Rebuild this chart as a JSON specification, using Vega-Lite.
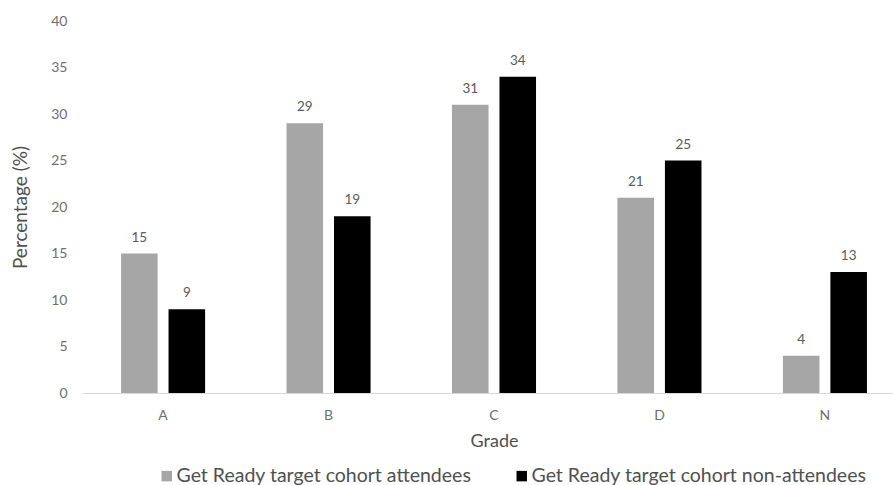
{
  "$schema": "https://vega.github.io/schema/vega-lite/v6.json",
  "autosize": "none",
  "padding": {"left": 82, "top": 21, "right": 0, "bottom": 92},
  "width": 824,
  "height": 372,
  "background": "white",
  "config": {
    "font": "Lato",
    "view": {"stroke": null},
    "axis": {"grid": false, "ticks": false, "labelColor": "#6f6f6f", "titleColor": "#505050", "titleFontWeight": "normal"}
  },
  "data": {
    "values": [
      {"grade": "A", "group": "Get Ready target cohort attendees", "pct": 15},
      {"grade": "A", "group": "Get Ready target cohort non-attendees", "pct": 9},
      {"grade": "B", "group": "Get Ready target cohort attendees", "pct": 29},
      {"grade": "B", "group": "Get Ready target cohort non-attendees", "pct": 19},
      {"grade": "C", "group": "Get Ready target cohort attendees", "pct": 31},
      {"grade": "C", "group": "Get Ready target cohort non-attendees", "pct": 34},
      {"grade": "D", "group": "Get Ready target cohort attendees", "pct": 21},
      {"grade": "D", "group": "Get Ready target cohort non-attendees", "pct": 25},
      {"grade": "N", "group": "Get Ready target cohort attendees", "pct": 4},
      {"grade": "N", "group": "Get Ready target cohort non-attendees", "pct": 13}
    ]
  },
  "encoding": {
    "x": {
      "field": "grade", "type": "nominal", "sort": ["A", "B", "C", "D", "N"],
      "scale": {"paddingInner": 0.492, "paddingOuter": 0.236},
      "axis": {"title": "Grade", "labelAngle": 0, "labelFontSize": 14, "labelPadding": 15, "titleFontSize": 18, "titlePadding": 10, "domainColor": "#d9d9d9", "domainWidth": 1}
    },
    "xOffset": {"field": "group", "type": "nominal", "scale": {"paddingInner": 0.23, "paddingOuter": 0}},
    "y": {
      "field": "pct", "type": "quantitative",
      "scale": {"domain": [0, 40]},
      "axis": {"title": "Percentage (%)", "values": [0, 5, 10, 15, 20, 25, 30, 35, 40], "domain": false, "labelFontSize": 14, "labelPadding": 15, "titleFontSize": 19, "titlePadding": 20}
    }
  },
  "layer": [
    {
      "mark": {"type": "bar"},
      "encoding": {
        "color": {
          "field": "group", "type": "nominal",
          "scale": {"range": ["#a6a6a6", "#000000"]},
          "legend": {
            "title": null, "orient": "none", "direction": "horizontal",
            "legendX": 75, "legendY": 445,
            "symbolType": "square", "symbolSize": 110, "symbolStrokeWidth": 0,
            "labelFontSize": 19.5, "labelColor": "#505050", "labelLimit": 500,
            "labelOffset": 0, "columnPadding": 40
          }
        }
      }
    },
    {
      "mark": {"type": "text", "baseline": "bottom", "dy": -9, "fontSize": 13.5, "color": "#5a5a5a"},
      "encoding": {"text": {"field": "pct", "type": "quantitative"}}
    }
  ]
}
